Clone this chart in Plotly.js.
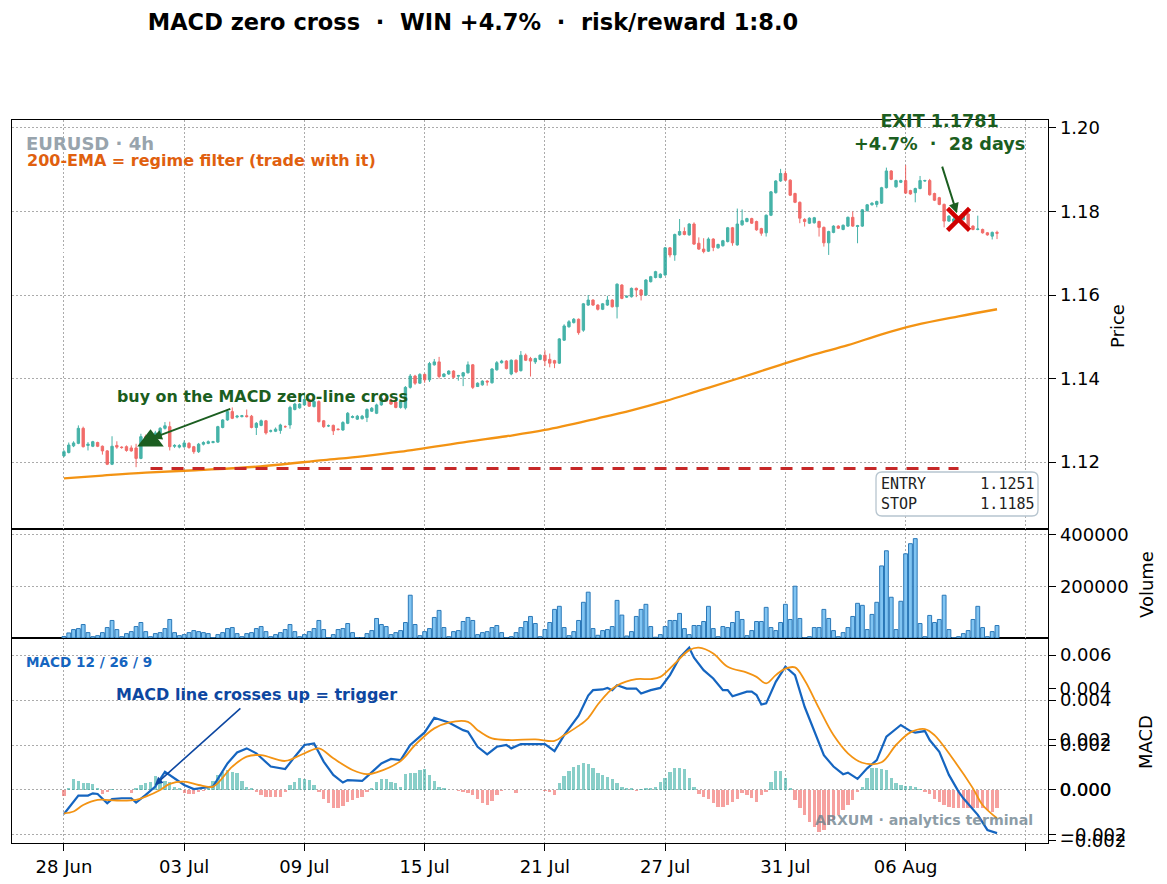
<!DOCTYPE html>
<html>
<head>
<meta charset="utf-8">
<script src="https://cdn.plot.ly/plotly-3.0.1.min.js"></script>
<style>html,body{margin:0;padding:0;background:#fff;}#chart{width:1167px;height:884px;}</style>
</head>
<body>
<div id="chart"></div>
<script>
// ---------- DATA ----------
const tickIdx = [0, 25, 50, 75, 100, 125, 150, 175, 200];
const tickLabels = ['28 Jun', '03 Jul', '09 Jul', '15 Jul', '21 Jul', '27 Jul', '31 Jul', '06 Aug', ''];

const opens = [
1.1215,1.1223,1.1239,1.1245,1.1281,1.1240,1.1238,1.1247,1.1238,1.1227,
1.1195,1.1240,1.1236,1.1237,1.1234,1.1234,1.1209,1.1261,1.1250,1.1262,
1.1261,1.1281,1.1285,1.1238,1.1236,1.1237,1.1245,1.1237,1.1225,1.1243,
1.1245,1.1247,1.1248,1.1283,1.1301,1.1321,1.1308,1.1309,1.1311,1.1310,
1.1283,1.1288,1.1299,1.1274,1.1274,1.1276,1.1285,1.1289,1.1326,1.1330,
1.1337,1.1350,1.1333,1.1345,1.1299,1.1287,1.1288,1.1279,1.1277,1.1293,
1.1307,1.1303,1.1304,1.1307,1.1322,1.1317,1.1337,1.1353,1.1349,1.1344,
1.1331,1.1330,1.1379,1.1406,1.1389,1.1410,1.1397,1.1433,1.1440,1.1405,
1.1411,1.1418,1.1406,1.1406,1.1414,1.1433,1.1381,1.1385,1.1394,1.1390,
1.1421,1.1438,1.1442,1.1411,1.1444,1.1419,1.1456,1.1448,1.1440,1.1446,
1.1456,1.1446,1.1443,1.1437,1.1492,1.1524,1.1534,1.1542,1.1516,1.1576,
1.1588,1.1576,1.1566,1.1576,1.1588,1.1572,1.1624,1.1595,1.1596,1.1616,
1.1612,1.1600,1.1632,1.1642,1.1642,1.1648,1.1713,1.1696,1.1744,1.1752,
1.1744,1.1770,1.1724,1.1710,1.1705,1.1734,1.1713,1.1718,1.1728,1.1761,
1.1720,1.1768,1.1776,1.1783,1.1776,1.1759,1.1749,1.1791,1.1845,1.1873,
1.1891,1.1875,1.1843,1.1822,1.1781,1.1772,1.1773,1.1776,1.1762,1.1725,
1.1750,1.1765,1.1757,1.1765,1.1786,1.1764,1.1765,1.1802,1.1816,1.1817,
1.1820,1.1857,1.1897,1.1859,1.1870,1.1874,1.1850,1.1845,1.1855,1.1873,
1.1874,1.1843,1.1833,1.1817,1.1777,1.1776,1.1780,1.1781,1.1794,1.1765,
1.1757,1.1757,1.1749,1.1741,1.1750];
const highs = [
1.1229,1.1247,1.1250,1.1288,1.1285,1.1248,1.1251,1.1249,1.1240,1.1229,
1.1262,1.1250,1.1238,1.1240,1.1240,1.1244,1.1268,1.1266,1.1265,1.1275,
1.1284,1.1296,1.1297,1.1243,1.1243,1.1252,1.1248,1.1239,1.1246,1.1250,
1.1252,1.1251,1.1287,1.1303,1.1324,1.1331,1.1313,1.1313,1.1326,1.1313,
1.1296,1.1302,1.1301,1.1278,1.1283,1.1292,1.1288,1.1335,1.1342,1.1341,
1.1362,1.1352,1.1347,1.1348,1.1301,1.1290,1.1290,1.1281,1.1298,1.1320,
1.1312,1.1313,1.1313,1.1329,1.1332,1.1340,1.1356,1.1356,1.1352,1.1347,
1.1348,1.1382,1.1411,1.1409,1.1413,1.1412,1.1440,1.1447,1.1452,1.1413,
1.1420,1.1420,1.1409,1.1416,1.1441,1.1435,1.1391,1.1396,1.1396,1.1425,
1.1442,1.1445,1.1444,1.1446,1.1446,1.1466,1.1460,1.1452,1.1450,1.1458,
1.1468,1.1460,1.1445,1.1497,1.1530,1.1540,1.1545,1.1544,1.1581,1.1600,
1.1590,1.1578,1.1581,1.1598,1.1590,1.1628,1.1626,1.1599,1.1618,1.1618,
1.1614,1.1638,1.1646,1.1658,1.1652,1.1715,1.1715,1.1747,1.1782,1.1762,
1.1772,1.1774,1.1738,1.1736,1.1738,1.1736,1.1723,1.1732,1.1763,1.1763,
1.1807,1.1805,1.1785,1.1785,1.1778,1.1761,1.1793,1.1849,1.1875,1.1902,
1.1898,1.1877,1.1845,1.1824,1.1784,1.1786,1.1787,1.1778,1.1764,1.1754,
1.1767,1.1767,1.1769,1.1788,1.1800,1.1768,1.1806,1.1818,1.1822,1.1826,
1.1859,1.1905,1.1899,1.1876,1.1876,1.1911,1.1852,1.1857,1.1885,1.1876,
1.1878,1.1845,1.1835,1.1819,1.1791,1.1786,1.1786,1.1794,1.1796,1.1767,
1.1790,1.1759,1.1751,1.1752,1.1754];
const lows = [
1.1212,1.1221,1.1236,1.1243,1.1235,1.1228,1.1236,1.1236,1.1218,1.1193,
1.1193,1.1232,1.1232,1.1225,1.1225,1.1188,1.1207,1.1248,1.1245,1.1258,
1.1258,1.1278,1.1228,1.1234,1.1233,1.1234,1.1232,1.1220,1.1222,1.1240,
1.1243,1.1245,1.1246,1.1281,1.1299,1.1303,1.1305,1.1307,1.1307,1.1281,
1.1265,1.1286,1.1266,1.1271,1.1272,1.1268,1.1282,1.1280,1.1324,1.1328,
1.1335,1.1332,1.1331,1.1295,1.1282,1.1284,1.1265,1.1276,1.1275,1.1291,
1.1305,1.1301,1.1302,1.1296,1.1320,1.1315,1.1335,1.1344,1.1337,1.1329,
1.1328,1.1326,1.1376,1.1385,1.1387,1.1390,1.1392,1.1431,1.1400,1.1403,
1.1409,1.1400,1.1395,1.1382,1.1412,1.1375,1.1380,1.1383,1.1383,1.1388,
1.1419,1.1436,1.1422,1.1408,1.1413,1.1417,1.1442,1.1405,1.1435,1.1444,
1.1430,1.1427,1.1425,1.1435,1.1490,1.1522,1.1532,1.1505,1.1512,1.1574,
1.1574,1.1563,1.1564,1.1574,1.1570,1.1544,1.1590,1.1593,1.1594,1.1595,
1.1587,1.1598,1.1630,1.1640,1.1640,1.1646,1.1690,1.1682,1.1742,1.1743,
1.1742,1.1720,1.1708,1.1700,1.1703,1.1705,1.1711,1.1716,1.1726,1.1718,
1.1718,1.1766,1.1774,1.1770,1.1754,1.1742,1.1740,1.1789,1.1843,1.1871,
1.1873,1.1837,1.1820,1.1772,1.1764,1.1770,1.1771,1.1740,1.1716,1.1696,
1.1748,1.1758,1.1755,1.1763,1.1763,1.1724,1.1763,1.1800,1.1814,1.1810,
1.1818,1.1855,1.1875,1.1857,1.1868,1.1842,1.1840,1.1822,1.1853,1.1871,
1.1838,1.1825,1.1815,1.1762,1.1775,1.1774,1.1778,1.1779,1.1762,1.1755,
1.1755,1.1747,1.1742,1.1733,1.1734];
const closes = [
1.1225,1.1241,1.1246,1.1281,1.1237,1.1243,1.1249,1.1238,1.1227,1.1195,
1.1238,1.1236,1.1235,1.1228,1.1227,1.1209,1.1261,1.1252,1.1262,1.1270,
1.1281,1.1287,1.1237,1.1240,1.1240,1.1246,1.1235,1.1225,1.1243,1.1247,
1.1249,1.1249,1.1285,1.1301,1.1321,1.1305,1.1310,1.1311,1.1309,1.1283,
1.1293,1.1299,1.1270,1.1275,1.1279,1.1289,1.1285,1.1331,1.1339,1.1339,
1.1350,1.1334,1.1345,1.1297,1.1285,1.1287,1.1275,1.1278,1.1295,1.1317,
1.1309,1.1310,1.1310,1.1326,1.1329,1.1337,1.1353,1.1346,1.1339,1.1331,
1.1345,1.1379,1.1406,1.1389,1.1410,1.1397,1.1436,1.1440,1.1405,1.1411,
1.1418,1.1403,1.1407,1.1414,1.1433,1.1379,1.1389,1.1394,1.1392,1.1423,
1.1438,1.1442,1.1424,1.1444,1.1416,1.1456,1.1444,1.1442,1.1448,1.1456,
1.1443,1.1437,1.1437,1.1495,1.1526,1.1536,1.1542,1.1510,1.1579,1.1588,
1.1576,1.1566,1.1579,1.1588,1.1572,1.1626,1.1592,1.1597,1.1616,1.1612,
1.1600,1.1636,1.1644,1.1656,1.1650,1.1713,1.1696,1.1745,1.1752,1.1745,
1.1770,1.1722,1.1710,1.1704,1.1734,1.1714,1.1721,1.1730,1.1761,1.1725,
1.1770,1.1778,1.1783,1.1772,1.1756,1.1748,1.1791,1.1847,1.1873,1.1891,
1.1875,1.1839,1.1822,1.1784,1.1776,1.1784,1.1785,1.1762,1.1725,1.1752,
1.1765,1.1760,1.1767,1.1786,1.1765,1.1766,1.1804,1.1816,1.1820,1.1824,
1.1857,1.1897,1.1877,1.1874,1.1874,1.1844,1.1842,1.1855,1.1874,1.1874,
1.1840,1.1827,1.1817,1.1777,1.1789,1.1782,1.1783,1.1790,1.1764,1.1757,
1.1758,1.1749,1.1744,1.1750,1.1748];

const volumes = [
6000,
19600,32700,36600,52300,20900,5200,9100,20900,40500,68000,
32700,5200,17000,24800,44400,60100,24800,5200,17000,20900,
36600,71900,20900,9100,13100,20900,28800,24800,20900,17000,
1500,13100,20900,36600,40500,17000,5200,17000,20900,36600,
44400,24800,5200,13100,20900,32700,52300,24800,5200,13100,
24800,36600,68000,32700,1500,13100,32700,36600,56200,20900,
1500,1500,17000,28800,75800,52300,44400,13100,20900,28800,
60100,166000,52300,9100,24800,36600,79700,107000,40500,5200,
24800,28800,64000,79700,68000,13100,20900,24800,40500,48400,
20900,1500,5200,20900,40500,64000,83600,56200,5200,32700,
60100,111000,123000,40500,9100,24800,68000,138500,177800,36600,
10500,28800,32700,44400,146000,88900,7800,24800,83600,111000,
130700,44400,3000,13100,44400,68000,68000,95400,36600,13100,
48400,48400,64000,122900,36600,5200,44400,40500,60100,103000,
71900,9100,28800,64000,64000,118900,40500,28800,60100,130700,
71900,201000,75800,1500,5200,40500,40500,111000,75800,28800,
5200,20900,40500,83600,134600,126800,32700,91500,138500,279700,
338500,158100,32700,142500,326800,366000,385600,56200,5200,87600,
60100,71900,166000,32700,1500,5200,17000,28800,71900,122900,
40500,5200,24800,48400];

// 200-EMA, read at sample bars
const emaIdx  = [0, 8, 17, 28, 40, 54, 62, 70, 84, 92, 100, 111, 118, 125, 132, 139, 149, 156, 163, 170, 177, 186, 194];
const emaVals = [1.1161,1.1168,1.1175,1.1181,1.1189,1.1205,1.1214,1.1225,1.1249,1.1262,1.1277,1.1305,1.1324,1.1346,1.1371,1.1396,1.1433,1.1458,1.1480,1.1506,1.1528,1.1549,1.1566];

// MACD line, read at sample bars
const macdIdx  = [0,1,3,5,6,7,9,10,12,14,15,17,19,21,23,25,27,31,34,36,38,40,43,46,48,50,52,54,56,58,59,62,63,66,68,70,72,75,77,80,83,84,86,88,90,92,93,95,100,102,104,107,109,110,112,113,114,115,117,119,120,122,124,126,128,130,131,133,135,137,138,139,142,143,144,145,146,148,150,152,154,156,158,160,162,163,165,167,169,171,174,176,177,179,180,182,184,186,187,190,192,194];
const macdVals = [-0.00107,-0.00080,-0.00025,-0.00025,-0.00015,-0.00018,-0.00059,-0.00041,-0.00037,-0.00037,-0.00056,-0.00022,0.00015,0.00081,0.00052,0.00022,0.00004,0.00015,0.00118,0.00167,0.00185,0.00163,0.00104,0.00093,0.00148,0.00200,0.00207,0.00126,0.00067,0.00033,0.00044,0.00040,0.00059,0.00118,0.00138,0.00133,0.00200,0.00256,0.00321,0.00300,0.00266,0.00259,0.00192,0.00158,0.00192,0.00200,0.00185,0.00204,0.00204,0.00173,0.00244,0.00330,0.00420,0.00444,0.00447,0.00454,0.00444,0.00466,0.00451,0.00451,0.00429,0.00444,0.00454,0.00511,0.00588,0.00633,0.00588,0.00533,0.00496,0.00444,0.00444,0.00417,0.00437,0.00437,0.00422,0.00380,0.00385,0.00481,0.00548,0.00511,0.00370,0.00259,0.00155,0.00104,0.00070,0.00077,0.00049,0.00096,0.00133,0.00237,0.00289,0.00262,0.00255,0.00262,0.00222,0.00170,0.00067,-0.00007,-0.00037,-0.00111,-0.00178,-0.00192];

// Signal line, read at sample bars
const sigIdx  = [0,2,4,7,11,15,17,20,22,25,28,31,35,38,41,46,50,53,56,60,63,65,70,73,77,80,84,86,89,93,98,102,104,107,109,111,113,115,119,122,124,127,130,132,135,138,142,144,146,148,150,152,154,157,160,163,166,170,173,176,179,181,185,189,191,194];
const sigVals = [-0.00104,-0.00096,-0.00067,-0.00044,-0.00047,-0.00044,-0.00030,0.00000,0.00027,0.00037,0.00022,0.00015,0.00104,0.00148,0.00155,0.00129,0.00163,0.00185,0.00141,0.00089,0.00070,0.00078,0.00129,0.00200,0.00274,0.00300,0.00303,0.00266,0.00229,0.00222,0.00225,0.00218,0.00244,0.00285,0.00320,0.00380,0.00430,0.00465,0.00493,0.00493,0.00503,0.00562,0.00622,0.00633,0.00607,0.00548,0.00522,0.00503,0.00474,0.00511,0.00540,0.00545,0.00488,0.00363,0.00244,0.00163,0.00121,0.00123,0.00200,0.00256,0.00271,0.00244,0.00133,0.00007,-0.00067,-0.00126];

// MACD histogram, one value per bar
const histVals = [
-0.00027,0.0001,0.0005,0.00041,0.0003,0.0003,0.00027,0.00007,-0.0002,-0.00007,
0.00003,0.00002,0.00001,-0.00002,-0.00015,0.0001,0.0002,0.0003,0.00037,0.0006,
0.00055,0.0004,0.00034,0.00015,0.00007,-0.00015,-0.0002,-0.00016,-0.00007,-0.00005,
0.00015,0.0004,0.00067,0.00081,0.0009,0.00081,0.00077,0.0004,0.00015,0.00007,
-0.00007,-0.00022,-0.0003,-0.00033,-0.00033,-0.0003,-0.0001,0.0002,0.00037,0.00055,
0.0005,0.00045,0.0002,-0.0001,-0.0004,-0.0006,-0.0008,-0.0008,-0.0007,-0.00055,
-0.00045,-0.00037,-0.0003,-0.0001,0.00007,0.00037,0.0005,0.0005,0.00037,0.0003,
0.00015,0.0007,0.00074,0.00074,0.00089,0.00092,0.00067,0.0004,0.00015,0.00007,
0.00002,-0.00002,-0.00003,-0.00007,-0.00015,-0.00022,-0.0004,-0.0006,-0.00067,-0.0005,
-0.00022,-0.00003,-0.00002,0.00001,-0.00015,0.00002,0.00001,-0.00002,0.00002,0.00001,
-0.00003,-0.0001,-0.00022,0.00030,0.00060,0.00085,0.00100,0.00110,0.00118,0.00114,
0.00096,0.00074,0.00067,0.00059,0.00049,0.0003,0.00015,0.0001,0.00007,-0.00004,
0.00004,0.00007,0.0001,0.00015,0.00037,0.00052,0.00081,0.00096,0.00096,0.00093,
0.00052,0.00015,-0.00019,-0.0003,-0.0004,-0.00059,-0.00074,-0.00074,-0.00067,-0.00052,
-0.0004,-0.00015,-0.00022,-0.00037,-0.00052,-0.00022,-0.00007,0.00037,0.00084,0.00084,
0.00052,0.00007,-0.00044,-0.00081,-0.00111,-0.00141,-0.00167,-0.00185,-0.00178,-0.00155,
-0.00133,-0.00111,-0.00089,-0.00067,-0.00044,-0.00007,0.00015,0.00052,0.00096,0.00096,
0.00093,0.00089,0.00052,0.0003,0.00022,0.00019,0.00018,0.00015,0.00004,-0.00007,
-0.00019,-0.0004,-0.00052,-0.00067,-0.00074,-0.00081,-0.00081,-0.00081,-0.00081,-0.00081,
-0.00081,-0.00081,-0.00089,-0.00096,-0.00081];

// Trade
const entryIdx = 18, entryPrice = 1.1251;
const exitIdx = 186, exitPrice = 1.1781;
const stopPrice = 1.1185;

// ---------- CHART ----------
const barIdx = closes.map((_, i) => i);
const FONT = 'DejaVu Sans';
const teal = '#26a69a', red = '#ef5350';
const gridStyle = {showgrid: true, gridcolor: '#ababab', griddash: '1.5px,2.5px', gridwidth: 1};
const frame = {showline: true, mirror: true, linecolor: '#000', linewidth: 1.3, zeroline: false};
const xRange = [-10.8, 204.6];

const traces = [
  {type: 'candlestick', x: barIdx, open: opens, high: highs, low: lows, close: closes,
   xaxis: 'x3', yaxis: 'y', whiskerwidth: 0,
   increasing: {line: {color: teal, width: 1}, fillcolor: teal},
   decreasing: {line: {color: red, width: 1}, fillcolor: red},
   opacity: 0.85, hoverinfo: 'skip'},
  {type: 'scatter', mode: 'lines', x: emaIdx, y: emaVals, xaxis: 'x3', yaxis: 'y',
   line: {color: '#f39313', width: 2.3, shape: 'spline'}, hoverinfo: 'skip'},
  {type: 'scatter', mode: 'lines', x: [entryIdx, exitIdx], y: [stopPrice, stopPrice], xaxis: 'x3', yaxis: 'y',
   line: {color: '#c62828', width: 3, dash: '12px,9px'}, hoverinfo: 'skip'},
  {type: 'scatter', mode: 'markers', x: [entryIdx], y: [entryPrice], xaxis: 'x3', yaxis: 'y',
   marker: {symbol: 'triangle-up', size: 23, color: '#1b5e20'}, hoverinfo: 'skip'},
  {type: 'scatter', mode: 'markers', x: [exitIdx], y: [exitPrice], xaxis: 'x3', yaxis: 'y',
   marker: {symbol: 'x-thin', size: 22, line: {color: '#d00000', width: 4.5}}, hoverinfo: 'skip'},
  {type: 'bar', x: barIdx, y: volumes, xaxis: 'x2', yaxis: 'y2', width: 0.8,
   marker: {color: '#80c4f2', line: {color: '#2a78b8', width: 1}}, hoverinfo: 'skip'},
  {type: 'bar', x: barIdx, y: histVals, xaxis: 'x', yaxis: 'y3', width: 0.7,
   marker: {color: histVals.map(v => v >= 0 ? 'rgba(38,166,154,0.55)' : 'rgba(239,83,80,0.55)')}, hoverinfo: 'skip'},
  {type: 'scatter', mode: 'lines', x: macdIdx, y: macdVals, xaxis: 'x', yaxis: 'y3',
   line: {color: '#1565c0', width: 2.2}, hoverinfo: 'skip'},
  {type: 'scatter', mode: 'lines', x: sigIdx, y: sigVals, xaxis: 'x', yaxis: 'y3',
   line: {color: '#f39313', width: 1.8, shape: 'spline'}, hoverinfo: 'skip'},
  // second (overlaid) MACD scale, drawn only for its tick labels
  {type: 'scatter', mode: 'markers', x: [0], y: [0], xaxis: 'x', yaxis: 'y4',
   marker: {opacity: 0}, hoverinfo: 'skip'}
];

const H = 723, L0 = 12, W = 1036, B = 843;
const px = v => (v - L0) / W;
const py = v => (B - v) / H;
const nb = s => s.replace(/ /g, '\u00a0');

// rounded box behind the ENTRY / STOP read-out (pixel corners converted to paper units)
function roundedBox(x0, y0, x1, y1, r) {
  const X = v => px(v).toFixed(5), Y = v => py(v).toFixed(5);
  return 'M' + X(x0 + r) + ',' + Y(y0) + ' L' + X(x1 - r) + ',' + Y(y0) +
    ' Q' + X(x1) + ',' + Y(y0) + ' ' + X(x1) + ',' + Y(y0 + r) +
    ' L' + X(x1) + ',' + Y(y1 - r) + ' Q' + X(x1) + ',' + Y(y1) + ' ' + X(x1 - r) + ',' + Y(y1) +
    ' L' + X(x0 + r) + ',' + Y(y1) + ' Q' + X(x0) + ',' + Y(y1) + ' ' + X(x0) + ',' + Y(y1 - r) +
    ' L' + X(x0) + ',' + Y(y0 + r) + ' Q' + X(x0) + ',' + Y(y0) + ' ' + X(x0 + r) + ',' + Y(y0) + ' Z';
}

const xBase = Object.assign({range: xRange, tickmode: 'array', tickvals: tickIdx, ticktext: tickLabels}, gridStyle, frame);

const layout = {
  width: 1167, height: 884,
  margin: {l: 12, r: 119, t: 120, b: 41},
  paper_bgcolor: '#fff', plot_bgcolor: '#fff',
  showlegend: false,
  bargap: 0,
  font: {family: FONT, size: 18, color: '#000'},
  title: {text: '<b>' + nb('MACD zero cross  ·  WIN +4.7%  ·  risk/reward 1:8.0') + '</b>',
          font: {family: FONT, size: 22.5, color: '#000'},
          xref: 'container', x: 473 / 1167, xanchor: 'center',
          yref: 'container', y: 1 - 22 / 884, yanchor: 'middle'},
  xaxis: Object.assign({}, xBase, {anchor: 'y3', domain: [0, 1], ticks: 'outside', ticklen: 7, tickcolor: '#000',
          tickfont: {family: FONT, size: 18, color: '#000'}}),
  xaxis2: Object.assign({}, xBase, {anchor: 'y2', matches: 'x', showticklabels: false, ticks: ''}),
  xaxis3: Object.assign({}, xBase, {anchor: 'y', matches: 'x', showticklabels: false, ticks: '',
          rangeslider: {visible: false}}),
  yaxis: Object.assign({domain: [py(529), 1], anchor: 'x3', side: 'right', range: [1.104, 1.2019],
          tickmode: 'array', tickvals: [1.12, 1.14, 1.16, 1.18, 1.20], tickformat: '.2f',
          ticks: 'outside', ticklen: 7, tickcolor: '#000', tickfont: {family: FONT, size: 18}}, gridStyle, frame),
  yaxis2: Object.assign({domain: [py(638), py(529)], anchor: 'x2', side: 'right', range: [0, 423000],
          tickmode: 'array', tickvals: [200000, 400000], ticktext: ['200000', '400000'],
          ticks: 'outside', ticklen: 7, tickcolor: '#000', tickfont: {family: FONT, size: 18}}, gridStyle, frame),
  yaxis3: Object.assign({domain: [0, py(638)], anchor: 'x', side: 'right', range: [-0.00236, 0.00676],
          tickmode: 'array', tickvals: [-0.002, 0, 0.002, 0.004, 0.006], tickformat: '.3f',
          ticks: 'outside', ticklen: 7, tickcolor: '#000', tickfont: {family: FONT, size: 18}}, gridStyle, frame),
  yaxis4: {overlaying: 'y3', anchor: 'x', side: 'right', range: [-0.002087, 0.005984],
          tickmode: 'array', tickvals: [-0.002, 0, 0.002, 0.004], tickformat: '.3f',
          ticks: 'outside', ticklen: 7, tickcolor: '#000', tickfont: {family: FONT, size: 18},
          showgrid: false, zeroline: false, showline: false},
  shapes: [
    {type: 'path', xref: 'paper', yref: 'paper', path: roundedBox(876, 472, 1038, 516, 6),
     fillcolor: 'rgba(255,255,255,0.9)', line: {color: '#b7c5cf', width: 1.3}, layer: 'above'}
  ],
  annotations: [
    {xref: 'paper', yref: 'paper', x: px(24), y: py(143), xanchor: 'left', yanchor: 'middle', showarrow: false,
     text: '<b>EURUSD · 4h</b>', font: {family: FONT, size: 18, color: '#98a4ad'}},
    {xref: 'paper', yref: 'paper', x: px(25), y: py(160), xanchor: 'left', yanchor: 'middle', showarrow: false,
     text: '<b>200-EMA = regime filter (trade with it)</b>', font: {family: FONT, size: 16, color: '#e0600f'}},
    {xref: 'paper', yref: 'paper', x: px(262.5), y: py(396), xanchor: 'center', yanchor: 'middle', showarrow: false,
     text: '<b>buy on the MACD zero-line cross</b>', font: {family: FONT, size: 15.9, color: '#1b5e20'}},
    {xref: 'x3', yref: 'y', x: 18.3, y: 1.1257, axref: 'x3', ayref: 'y', ax: 34.9, ay: 1.1329, text: '',
     showarrow: true, arrowhead: 2, arrowsize: 1, arrowwidth: 2, arrowcolor: '#1b5e20'},
    {xref: 'paper', yref: 'paper', x: px(939), y: py(132), xanchor: 'center', yanchor: 'middle', showarrow: false,
     text: '<b>EXIT 1.1781</b><br><b>' + nb('+4.7%  ·  28 days') + '</b>', font: {family: FONT, size: 17.6, color: '#1b5e20'}},
    {xref: 'x3', yref: 'y', x: 185.65, y: 1.1796, axref: 'x3', ayref: 'y', ax: 182.5, ay: 1.1911, text: '',
     showarrow: true, arrowhead: 2, arrowsize: 1, arrowwidth: 2, arrowcolor: '#1b5e20'},
    {xref: 'paper', yref: 'paper', x: px(880), y: py(494), xanchor: 'left', yanchor: 'middle', showarrow: false,
     align: 'left', borderpad: 0,
     text: nb('ENTRY      1.1251') + '<br>' + nb('STOP       1.1185'),
     font: {family: 'DejaVu Sans Mono', size: 15, color: '#222'}},
    {xref: 'paper', yref: 'paper', x: px(24), y: py(662), xanchor: 'left', yanchor: 'middle', showarrow: false,
     text: '<b>MACD 12 / 26 / 9</b>', font: {family: FONT, size: 13.6, color: '#1565c0'}},
    {xref: 'paper', yref: 'paper', x: px(256.5), y: py(694), xanchor: 'center', yanchor: 'middle', showarrow: false,
     text: '<b>MACD line crosses up = trigger</b>', font: {family: FONT, size: 16, color: '#0d47a1'}},
    {xref: 'x', yref: 'y3', x: 18.9, y: 0.00022, axref: 'x', ayref: 'y3', ax: 37.0, ay: 0.00369, text: '',
     showarrow: true, arrowhead: 2, arrowsize: 1, arrowwidth: 1.6, arrowcolor: '#0d47a1'},
    {xref: 'paper', yref: 'paper', x: px(1035), y: py(820), xanchor: 'right', yanchor: 'middle', showarrow: false,
     text: '<b>ARXUM · analytics terminal</b>', font: {family: FONT, size: 14.2, color: 'rgba(110,130,142,0.8)'}},
    {xref: 'paper', yref: 'paper', x: px(1117), y: py(326), xanchor: 'center', yanchor: 'middle', showarrow: false,
     textangle: -90, text: 'Price', font: {family: FONT, size: 18, color: '#000'}},
    {xref: 'paper', yref: 'paper', x: px(1146), y: py(585), xanchor: 'center', yanchor: 'middle', showarrow: false,
     textangle: -90, text: 'Volume', font: {family: FONT, size: 18, color: '#000'}},
    {xref: 'paper', yref: 'paper', x: px(1145), y: py(742), xanchor: 'center', yanchor: 'middle', showarrow: false,
     textangle: -90, text: 'MACD', font: {family: FONT, size: 18, color: '#000'}}
  ]
};

Plotly.newPlot('chart', traces, layout, {staticPlot: true, displayModeBar: false});
</script>
</body>
</html>
